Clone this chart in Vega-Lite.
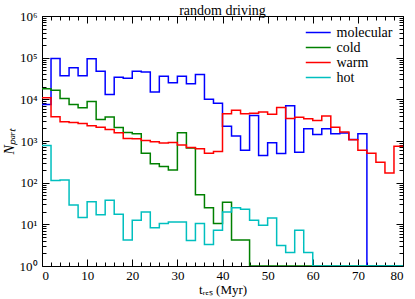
{
"$schema": "https://vega.github.io/schema/vega-lite/v6.json",
"width": 361, "height": 250,
"autosize": {"type": "none"},
"padding": {"left": 42, "top": 16, "right": 12, "bottom": 33},
"title": {"text": "random driving", "font": "Liberation Serif", "fontSize": 14, "fontWeight": "normal", "offset": 4, "dy": 12, "anchor": "middle", "color": "black"},
"data": {"values": [
{"series":"molecular","t":0,"n":7500},{"series":"molecular","t":2,"n":95000},{"series":"molecular","t":4,"n":37000},{"series":"molecular","t":6,"n":57000},{"series":"molecular","t":8,"n":37000},{"series":"molecular","t":10,"n":94000},{"series":"molecular","t":12,"n":47000},{"series":"molecular","t":14,"n":13000},{"series":"molecular","t":16,"n":34000},{"series":"molecular","t":18,"n":32000},{"series":"molecular","t":20,"n":47000},{"series":"molecular","t":22,"n":45000},{"series":"molecular","t":24,"n":14900},{"series":"molecular","t":26,"n":36000},{"series":"molecular","t":28,"n":25000},{"series":"molecular","t":30,"n":36000},{"series":"molecular","t":32,"n":23500},{"series":"molecular","t":34,"n":39700},{"series":"molecular","t":36,"n":10000},{"series":"molecular","t":38,"n":8100},{"series":"molecular","t":40,"n":2270},{"series":"molecular","t":42,"n":1310},{"series":"molecular","t":44,"n":600},{"series":"molecular","t":46,"n":4100},{"series":"molecular","t":48,"n":450},{"series":"molecular","t":50,"n":910},{"series":"molecular","t":52,"n":500},{"series":"molecular","t":54,"n":7000},{"series":"molecular","t":56,"n":540},{"series":"molecular","t":58,"n":1970},{"series":"molecular","t":60,"n":1440},{"series":"molecular","t":62,"n":1970},{"series":"molecular","t":64,"n":1500},{"series":"molecular","t":66,"n":1550},{"series":"molecular","t":68,"n":1080},{"series":"molecular","t":70,"n":1500},{"series":"molecular","t":72,"n":0},{"series":"molecular","t":74,"n":0},{"series":"molecular","t":76,"n":0},{"series":"molecular","t":78,"n":0},{"series":"molecular","t":80,"n":0},
{"series":"cold","t":0,"n":17900},{"series":"cold","t":2,"n":16500},{"series":"cold","t":4,"n":10500},{"series":"cold","t":6,"n":7500},{"series":"cold","t":8,"n":6300},{"series":"cold","t":10,"n":8900},{"series":"cold","t":12,"n":3300},{"series":"cold","t":14,"n":3750},{"series":"cold","t":16,"n":2100},{"series":"cold","t":18,"n":1600},{"series":"cold","t":20,"n":1500},{"series":"cold","t":22,"n":505},{"series":"cold","t":24,"n":285},{"series":"cold","t":26,"n":245},{"series":"cold","t":28,"n":200},{"series":"cold","t":30,"n":1570},{"series":"cold","t":32,"n":680},{"series":"cold","t":34,"n":51},{"series":"cold","t":36,"n":25},{"series":"cold","t":38,"n":10.4},{"series":"cold","t":40,"n":34},{"series":"cold","t":42,"n":4.2},{"series":"cold","t":44,"n":4.2},{"series":"cold","t":46,"n":1},{"series":"cold","t":48,"n":0},{"series":"cold","t":50,"n":0},{"series":"cold","t":52,"n":0},{"series":"cold","t":54,"n":0},{"series":"cold","t":56,"n":0},{"series":"cold","t":58,"n":0},{"series":"cold","t":60,"n":0},{"series":"cold","t":62,"n":0},{"series":"cold","t":64,"n":0},{"series":"cold","t":66,"n":0},{"series":"cold","t":68,"n":0},{"series":"cold","t":70,"n":0},{"series":"cold","t":72,"n":0},{"series":"cold","t":74,"n":0},{"series":"cold","t":76,"n":0},{"series":"cold","t":78,"n":0},{"series":"cold","t":80,"n":0},
{"series":"warm","t":0,"n":10900},{"series":"warm","t":2,"n":3800},{"series":"warm","t":4,"n":2900},{"series":"warm","t":6,"n":2780},{"series":"warm","t":8,"n":2620},{"series":"warm","t":10,"n":2320},{"series":"warm","t":12,"n":2130},{"series":"warm","t":14,"n":1900},{"series":"warm","t":16,"n":1570},{"series":"warm","t":18,"n":1150},{"series":"warm","t":20,"n":1140},{"series":"warm","t":22,"n":1030},{"series":"warm","t":24,"n":960},{"series":"warm","t":26,"n":900},{"series":"warm","t":28,"n":925},{"series":"warm","t":30,"n":800},{"series":"warm","t":32,"n":700},{"series":"warm","t":34,"n":648},{"series":"warm","t":36,"n":510},{"series":"warm","t":38,"n":562},{"series":"warm","t":40,"n":4500},{"series":"warm","t":42,"n":5500},{"series":"warm","t":44,"n":4500},{"series":"warm","t":46,"n":4650},{"series":"warm","t":48,"n":4950},{"series":"warm","t":50,"n":4370},{"series":"warm","t":52,"n":6400},{"series":"warm","t":54,"n":3480},{"series":"warm","t":56,"n":3700},{"series":"warm","t":58,"n":3430},{"series":"warm","t":60,"n":3100},{"series":"warm","t":62,"n":4000},{"series":"warm","t":64,"n":2150},{"series":"warm","t":66,"n":1650},{"series":"warm","t":68,"n":1075},{"series":"warm","t":70,"n":600},{"series":"warm","t":72,"n":505},{"series":"warm","t":74,"n":310},{"series":"warm","t":76,"n":170},{"series":"warm","t":78,"n":750},{"series":"warm","t":80,"n":750},
{"series":"hot","t":0,"n":785},{"series":"hot","t":2,"n":113},{"series":"hot","t":4,"n":116},{"series":"hot","t":6,"n":29},{"series":"hot","t":8,"n":14.5},{"series":"hot","t":10,"n":35},{"series":"hot","t":12,"n":17},{"series":"hot","t":14,"n":38},{"series":"hot","t":16,"n":17.5},{"series":"hot","t":18,"n":4.2},{"series":"hot","t":20,"n":12.5},{"series":"hot","t":22,"n":19.7},{"series":"hot","t":24,"n":8.3},{"series":"hot","t":26,"n":10.4},{"series":"hot","t":28,"n":11.3},{"series":"hot","t":30,"n":11.3},{"series":"hot","t":32,"n":4.1},{"series":"hot","t":34,"n":10.4},{"series":"hot","t":36,"n":3.3},{"series":"hot","t":38,"n":7.2},{"series":"hot","t":40,"n":19.7},{"series":"hot","t":42,"n":25},{"series":"hot","t":44,"n":23},{"series":"hot","t":46,"n":12.5},{"series":"hot","t":48,"n":9.5},{"series":"hot","t":50,"n":14.2},{"series":"hot","t":52,"n":3.1},{"series":"hot","t":54,"n":2.1},{"series":"hot","t":56,"n":7.2},{"series":"hot","t":58,"n":2.1},{"series":"hot","t":60,"n":0},{"series":"hot","t":62,"n":0},{"series":"hot","t":64,"n":1},{"series":"hot","t":66,"n":0},{"series":"hot","t":68,"n":0},{"series":"hot","t":70,"n":0},{"series":"hot","t":72,"n":0},{"series":"hot","t":74,"n":0},{"series":"hot","t":76,"n":0},{"series":"hot","t":78,"n":0},{"series":"hot","t":80,"n":0}
]},
"layer": [
{
"mark": {"type": "line", "interpolate": "step-after", "strokeWidth": 1.5, "clip": true, "invalid": "show"},
"encoding": {
"x": {"field": "t", "type": "quantitative", "scale": {"domain": [0, 80], "nice": false, "zero": false},
"axis": {"orient": "bottom", "values": [0,10,20,30,40,50,60,70,80], "ticks": false, "domain": false, "labelPadding": 3, "labelFontSize": 13, "title": "tᵣₑₛ (Myr)", "titleFontSize": 13, "titleY": 17, "titleBaseline": "top"}},
"y": {"field": "n", "type": "quantitative", "scale": {"type": "log", "domain": [1, 1000000], "nice": false, "clamp": true},
"axis": {"orient": "left", "values": [1,10,100,1000,10000,100000,1000000], "labelExpr": "'10' + ['⁰','¹','²','³','⁴','⁵','⁶'][round(log(datum.value)/LN10)]", "ticks": false, "domain": false, "labelPadding": 5, "labelFontSize": 13, "title": "Nₚₐᵣₜ", "titleFontStyle": "italic", "titlePadding": 3}},
"color": {"field": "series", "type": "nominal",
"scale": {"domain": ["molecular", "cold", "warm", "hot"], "range": ["#0000ff", "#008000", "#ff0000", "#00bfbf"]},
"legend": {"title": null, "orient": "none", "legendX": 268.75, "legendY": 9, "symbolType": "M-1.85,0H1.85", "symbolSize": 182, "symbolStrokeWidth": 1.5, "symbolFillColor": "transparent", "labelFont": "Liberation Serif", "labelFontSize": 14, "labelColor": "black", "rowPadding": -1.5, "labelOffset": 10.75}}
}
},
{
"mark": {"type": "point", "opacity": 0},
"encoding": {
"x": {"field": "t", "type": "quantitative", "axis": {"orient": "bottom", "values": [0,10,20,30,40,50,60,70,80], "labels": false, "domain": false, "tickSize": -7, "title": null}},
"y": {"field": "n", "type": "quantitative", "axis": {"orient": "left", "values": [1,10,100,1000,10000,100000,1000000], "labels": false, "domain": false, "tickSize": -7, "title": null}}
}
},
{
"mark": {"type": "point", "opacity": 0},
"encoding": {
"x": {"field": "t", "type": "quantitative", "axis": {"orient": "bottom", "values": [2,4,6,8,12,14,16,18,22,24,26,28,32,34,36,38,42,44,46,48,52,54,56,58,62,64,66,68,72,74,76,78], "labels": false, "domain": false, "tickSize": -4, "title": null}},
"y": {"field": "n", "type": "quantitative", "axis": {"orient": "left", "values": [2,3,4,5,6,7,8,9,20,30,40,50,60,70,80,90,200,300,400,500,600,700,800,900,2000,3000,4000,5000,6000,7000,8000,9000,20000,30000,40000,50000,60000,70000,80000,90000,200000,300000,400000,500000,600000,700000,800000,900000], "labels": false, "domain": false, "tickSize": -4, "title": null}}
}
},
{
"mark": {"type": "point", "opacity": 0},
"encoding": {
"x": {"field": "t", "type": "quantitative", "axis": {"orient": "top", "values": [0,10,20,30,40,50,60,70,80], "labels": false, "domain": false, "tickSize": -7, "title": null}},
"y": {"field": "n", "type": "quantitative", "axis": {"orient": "right", "values": [1,10,100,1000,10000,100000,1000000], "labels": false, "domain": false, "tickSize": -7, "title": null}}
}
},
{
"mark": {"type": "point", "opacity": 0},
"encoding": {
"x": {"field": "t", "type": "quantitative", "axis": {"orient": "top", "values": [2,4,6,8,12,14,16,18,22,24,26,28,32,34,36,38,42,44,46,48,52,54,56,58,62,64,66,68,72,74,76,78], "labels": false, "domain": false, "tickSize": -4, "title": null}},
"y": {"field": "n", "type": "quantitative", "axis": {"orient": "right", "values": [2,3,4,5,6,7,8,9,20,30,40,50,60,70,80,90,200,300,400,500,600,700,800,900,2000,3000,4000,5000,6000,7000,8000,9000,20000,30000,40000,50000,60000,70000,80000,90000,200000,300000,400000,500000,600000,700000,800000,900000], "labels": false, "domain": false, "tickSize": -4, "title": null}}
}
}
],
"resolve": {"axis": {"x": "independent", "y": "independent"}},
"config": {
"font": "Liberation Serif",
"view": {"stroke": "black", "strokeWidth": 1},
"axis": {"grid": false, "domain": false, "labelFont": "Liberation Serif", "labelFontSize": 14, "labelColor": "black", "titleFont": "Liberation Serif", "titleFontSize": 14, "titleFontWeight": "normal", "titleColor": "black", "tickColor": "black", "tickWidth": 1}
}
}
